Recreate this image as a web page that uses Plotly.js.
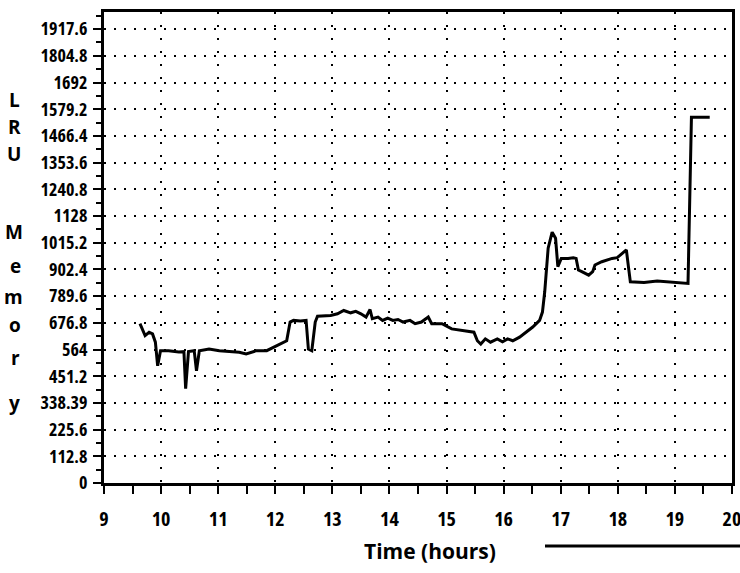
<!DOCTYPE html>
<html>
<head>
<meta charset="utf-8">
<script src="https://cdn.plot.ly/plotly-3.0.1.min.js"></script>
<style>
html,body{margin:0;padding:0;background:#fff;}
#chart{width:740px;height:573px;}
#chart .xtick text, #chart .ytick text{font-stretch:75% !important;}
</style>
</head>
<body>
<div id="chart"></div>
<script>
// ---- data ----
const hours = [9.63,9.72,9.79,9.85,9.9,9.94,9.99,10.13,10.31,10.40,10.43,10.48,10.58,10.62,10.67,10.84,11.02,11.2,11.37,11.49,11.67,11.85,11.96,12.08,12.2,12.26,12.32,12.44,12.54,12.58,12.64,12.7,12.74,12.97,13.09,13.2,13.32,13.41,13.5,13.59,13.66,13.7,13.8,13.88,13.97,14.06,14.15,14.24,14.36,14.45,14.56,14.68,14.74,14.86,14.92,15.09,15.33,15.48,15.54,15.6,15.68,15.77,15.89,15.98,16.07,16.16,16.28,16.39,16.51,16.63,16.68,16.72,16.78,16.85,16.91,16.95,17.01,17.13,17.22,17.27,17.31,17.37,17.49,17.56,17.6,17.72,17.81,17.9,17.99,18.06,18.15,18.19,18.22,18.46,18.69,19.23,19.29,19.35,19.61];
const memory = [673,623,637,630,595,495,559,559,553,555,399,555,559,474,559,566,559,555,552,545,559,559,573,587,601,680,687,684,687,566,559,680,705,708,715,729,719,725,715,701,733,694,701,687,697,687,691,680,687,673,680,701,673,673,673,651,644,637,601,587,609,595,609,597,609,601,616,637,659,687,722,808,992,1060,1034,914,949,949,952,949,900,893,878,893,921,935,942,949,952,966,985,907,850,847,853,843,1545,1545,1545];

const yTickVals = [0,112.8,225.6,338.4,451.2,564,676.8,789.6,902.4,1015.2,1128,1240.8,1353.6,1466.4,1579.2,1692,1804.8,1917.6];
const yTickText = ["0","112.8","225.6","338.39","451.2","564","676.8","789.6","902.4","1015.2","1128","1240.8","1353.6","1466.4","1579.2","1692","1804.8","1917.6"];
const xTickVals = [9,10,11,12,13,14,15,16,17,18,19,20];
const xTitle = "Time (hours)";
const yTitleLetters = ["L","R","U","M","e","m","o","r","y"];

// ---- layout ----
const W = 740, H = 573;
const mL = 104, mR = 8, mT = 12, mB = 90;
const letterPixY = [100,127,154,232,266,297,325,358,403];
const letterPixX = [14,14,14,14,15,13,15,15,14];
const fontFam = '"Open Sans", "Liberation Sans", sans-serif';

const plotW = W - mL - mR, plotH = H - mT - mB;
const annotations = yTitleLetters.map((ch, i) => ({
  text: ch, showarrow: false, xref: 'paper', yref: 'paper',
  x: (letterPixX[i] - mL) / plotW, y: (H - mB - letterPixY[i]) / plotH,
  xanchor: 'center', yanchor: 'middle', borderpad: 0,
  font: {family: fontFam, size: 19, color: '#000', weight: 'bold'}
}));
annotations.push({
  text: xTitle, showarrow: false, xref: 'paper', yref: 'paper',
  x: (430 - mL) / plotW, y: (H - mB - 551) / plotH,
  xanchor: 'center', yanchor: 'middle', borderpad: 0,
  font: {family: fontFam, size: 21, color: '#000', weight: 'bold'}
});

const trace = {
  x: hours, y: memory, type: 'scatter', mode: 'lines',
  line: {color: '#000', width: 3}, hoverinfo: 'skip'
};

const layout = {
  width: W, height: H,
  margin: {l: mL, r: mR, t: mT, b: mB},
  paper_bgcolor: '#fff', plot_bgcolor: '#fff',
  showlegend: false,
  xaxis: {
    range: [9, 20.0005], tickvals: xTickVals, ticktext: xTickVals.map(String),
    ticks: 'outside', ticklen: 8, tickwidth: 2, tickcolor: '#000',
    minor: {dtick: 0.5, tick0: 9, ticks: 'outside', ticklen: 8, tickwidth: 2, tickcolor: '#000', showgrid: false},
    showline: true, linecolor: '#000', linewidth: 3, mirror: true,
    showgrid: true, gridcolor: '#000', gridwidth: 2, griddash: '2px,11px',
    zeroline: false, ticklabelstandoff: 8, ticklabeloverflow: 'allow',
    tickfont: {family: fontFam, size: 20, color: '#000', weight: 'bold'},
    fixedrange: true
  },
  yaxis: {
    range: [0, 1990], tickvals: yTickVals, ticktext: yTickText,
    ticks: 'outside', ticklen: 8, tickwidth: 2, tickcolor: '#000',
    minor: {dtick: 56.4, tick0: 0, ticks: 'outside', ticklen: 5, tickwidth: 2, tickcolor: '#000', showgrid: false},
    showline: true, linecolor: '#000', linewidth: 3, mirror: true,
    showgrid: true, gridcolor: '#000', gridwidth: 2, griddash: '2px,8px',
    zeroline: false, ticklabelstandoff: 2, ticklabeloverflow: 'allow',
    tickfont: {family: fontFam, size: 18, color: '#000', weight: 'bold'},
    fixedrange: true
  },
  annotations: annotations,
  shapes: [{
    type: 'line', xref: 'paper', yref: 'paper',
    x0: (545 - mL) / plotW, x1: (740 - mL) / plotW,
    y0: (H - mB - 546) / plotH, y1: (H - mB - 546) / plotH,
    line: {color: '#000', width: 3}
  }]
};

Plotly.newPlot('chart', [trace], layout, {displayModeBar: false, staticPlot: true});
</script>
</body>
</html>
